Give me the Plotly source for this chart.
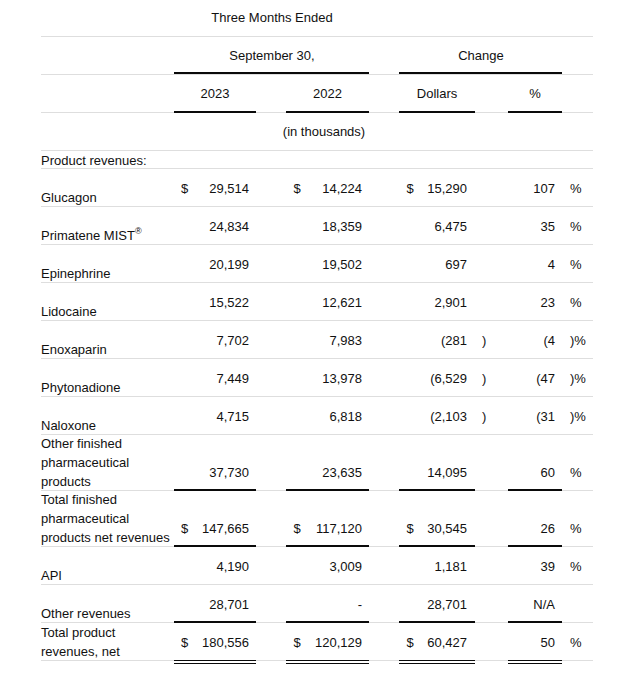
import plotly.graph_objects as go

# ---- data (in thousands) ----
title_text = "Three Months Ended"
period_text = "September 30,"
change_text = "Change"
col_headers = ["2023", "2022", "Dollars", "%"]
units_text = "(in thousands)"
section_text = "Product revenues:"

labels = ["Glucagon", "Primatene MIST<sup>®</sup>", "Epinephrine", "Lidocaine",
          "Enoxaparin", "Phytonadione", "Naloxone",
          "Other finished<br>pharmaceutical<br>products",
          "Total finished<br>pharmaceutical<br>products net revenues",
          "API", "Other revenues", "Total product<br>revenues, net"]
rev_2023 = [29514, 24834, 20199, 15522, 7702, 7449, 4715, 37730, 147665, 4190, 28701, 180556]
rev_2022 = [14224, 18359, 19502, 12621, 7983, 13978, 6818, 23635, 117120, 3009, None, 120129]
change_dollars = [15290, 6475, 697, 2901, -281, -6529, -2103, 14095, 30545, 1181, 28701, 60427]
change_pct = [107, 35, 4, 23, -4, -47, -31, 60, 26, 39, None, 50]
dollar_rows = [0, 8, 11]      # rows printed with a $ sign
single_rule_rows = [7, 8, 10]  # rows with a single underline
double_rule_rows = [11]        # rows with a double underline

# ---- layout constants ----
W, H = 640, 674
PAGE_OFF = 8  # the page body margin shifts the plot; offset the axes to compensate
LEFT, RIGHT = 41, 593
col_span = [(174, 256), (286, 369), (399, 475), (508, 562)]
num_right = [249, 362, 467, 555]
dollar_x = [184.5, 297, 410]
paren_x = 482
pct_x = 570
TXT_DY = 1.5  # small nudge so text sits like the reference
FONT = dict(family="Arial, 'Liberation Sans', sans-serif", size=13, color="#111111")
GRAY = "#dedede"
BLACK = "#0a0a0a"

# row bottoms
header_heights = [36, 38, 38, 38, 18]
bottoms = []
y = 0
for h in header_heights:
    y += h
    bottoms.append(y)
body_bottoms = []
for lab in labels:
    n = lab.count("<br>") + 1
    y += 38 if n < 3 else 38 + 18 * (n - 2)
    body_bottoms.append(y)


def fmt(v):
    if v is None:
        return "-"
    return f"({-v:,}" if v < 0 else f"{v:,}"


fig = go.Figure()


def add_text(xs, ys, texts, pos):
    fig.add_trace(go.Scatter(x=xs, y=[v + TXT_DY for v in ys], text=texts, mode="text",
                             textposition=pos, textfont=FONT, hoverinfo="skip", showlegend=False))


# headers
add_text([272], [bottoms[0] - 19], [title_text], "middle center")
add_text([272, 481], [bottoms[1] - 19] * 2, [period_text, change_text], "middle center")
add_text([(a + b) / 2 for a, b in col_span], [bottoms[2] - 19] * 4, col_headers, "middle center")
add_text([324], [bottoms[3] - 19], [units_text], "middle center")
add_text([LEFT], [bottoms[4] - 8], [section_text], "middle right")

# labels, one point per text line
lx, ly, lt = [], [], []
for lab, b in zip(labels, body_bottoms):
    parts = lab.split("<br>")
    for i, p in enumerate(parts):
        lx.append(LEFT)
        ly.append(b - 9 - 19 * (len(parts) - 1 - i))
        lt.append(p)
add_text(lx, ly, lt, "middle right")

num_y = [b - 18 for b in body_bottoms]
add_text([num_right[0]] * len(labels), num_y, [fmt(v) for v in rev_2023], "middle left")
add_text([num_right[1]] * len(labels), num_y, [fmt(v) for v in rev_2022], "middle left")
add_text([num_right[2]] * len(labels), num_y, [fmt(v) for v in change_dollars], "middle left")
add_text([num_right[3]] * len(labels), num_y,
         ["N/A" if v is None else fmt(v) for v in change_pct], "middle left")

# $ signs
dx, dy, dt = [], [], []
for r in dollar_rows:
    for x in dollar_x:
        dx.append(x)
        dy.append(num_y[r])
        dt.append("$")
add_text(dx, dy, dt, "middle center")

# closing parens / percent signs
px_, py_, pt_ = [], [], []
for v, yy in zip(change_dollars, num_y):
    if v is not None and v < 0:
        px_.append(paren_x); py_.append(yy); pt_.append(")")
for v, yy in zip(change_pct, num_y):
    if v is None:
        continue
    px_.append(pct_x); py_.append(yy); pt_.append(")%" if v < 0 else "%")
add_text(px_, py_, pt_, "middle right")


def hline(x0, x1, yy, color, width):
    return dict(type="line", x0=x0, x1=x1, y0=yy, y1=yy, line=dict(color=color, width=width))


# rules
shapes = []
for b in bottoms + body_bottoms:
    s = hline(LEFT, RIGHT, b + 0.5, GRAY, 1)
    s["layer"] = "below"
    shapes.append(s)
shapes.append(hline(col_span[0][0], col_span[1][1], bottoms[1] - 1, BLACK, 2))
shapes.append(hline(col_span[2][0], col_span[3][1], bottoms[1] - 1, BLACK, 2))
for a, c in col_span:
    shapes.append(hline(a, c, bottoms[2], BLACK, 2))
    for r in single_rule_rows:
        shapes.append(hline(a, c, body_bottoms[r], BLACK, 2))
    for r in double_rule_rows:
        for off in (0.5, 3.5):
            shapes.append(hline(a, c, body_bottoms[r] + off, BLACK, 1))
shapes.append(dict(type="line", x0=636.5, x1=636.5, y0=0, y1=H + PAGE_OFF,
                   line=dict(color="#e6e6e6", width=1)))

fig.update_layout(
    width=W, height=H,
    margin=dict(l=0, r=0, t=0, b=0),
    paper_bgcolor="white", plot_bgcolor="white",
    xaxis=dict(range=[PAGE_OFF, W + PAGE_OFF], visible=False, fixedrange=True),
    yaxis=dict(range=[H + PAGE_OFF, PAGE_OFF], visible=False, fixedrange=True),
    shapes=shapes,
    showlegend=False,
)

fig.write_html("out.html")
